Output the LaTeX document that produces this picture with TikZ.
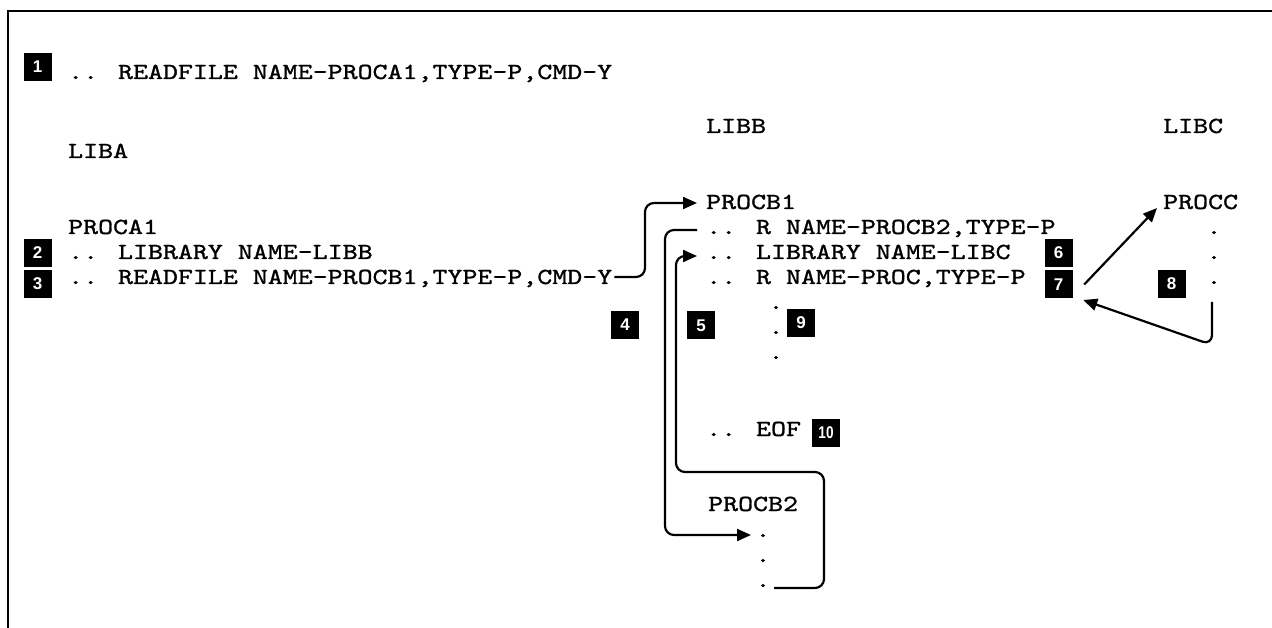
\documentclass[tikz,border=0pt]{standalone}
\usepackage{fontspec}
\usetikzlibrary{arrows.meta,calc}
% typewriter face widened to a Courier-like pitch and weight
\newfontfamily\codefont{lmmono10-regular.otf}[FakeStretch=1.24,FakeBold=1.2]
\newfontfamily\badgefont{Liberation Sans}
\newfontfamily\badgenarrow{Liberation Sans}[FakeStretch=0.8]
\begin{document}
\begin{tikzpicture}[x=1pt,y=-1pt,
  code/.style={font=\codefont\fontsize{23}{25}\selectfont,inner sep=0pt,anchor=base west},
  dotc/.style={font=\codefont\fontsize{23}{25}\selectfont,inner sep=0pt,anchor=base},
  badge/.style={fill=black,text=white,minimum width=28pt,minimum height=28pt,inner sep=0pt,
                font=\badgefont\bfseries\fontsize{17}{17}\selectfont},
  link/.style={line width=2.2pt,rounded corners=9pt},
  tip/.style={-{Triangle[length=14pt,width=12pt]}}]
\useasboundingbox (0,0) rectangle (1272,628);

% frame (top and left edges)
\draw[line width=2.6pt] (8,628) -- (8,11) -- (1272,11);

% LIBA
\node[badge] (n1) at (37.5,67) {1};
\node[code] (l1) at (68,79) {.. READFILE NAME-PROCA1,TYPE-P,CMD-Y};
\node[code] (liba) at (68,158) {LIBA};
\node[code] (proca) at (68,234) {PROCA1};
\node[code] (a2) at (68,259) {.. LIBRARY NAME-LIBB};
\node[code] (a3) at (68,284) {.. READFILE NAME-PROCB1,TYPE-P,CMD-Y};
\node[badge] (n2) at (37.5,253) {2};
\node[badge] (n3) at (37.5,284) {3};

% LIBB
\node[code] (libb) at (706,133) {LIBB};
\node[code] (procb1) at (706,209) {PROCB1};
\node[code] (b1) at (706,234) {.. R NAME-PROCB2,TYPE-P};
\node[code] (b2) at (706,259) {.. LIBRARY NAME-LIBC};
\node[code] (b3) at (706,284) {.. R NAME-PROC,TYPE-P};
\node[dotc] (d1) at (776,309) {.};
\node[dotc] (d2) at (776,334) {.};
\node[dotc] (d3) at (776,359) {.};
\node[code] (eof) at (706,436) {.. EOF};
\node[code] (procb2) at (708,511) {PROCB2};
\node[dotc] (p1) at (763,537) {.};
\node[dotc] (p2) at (763,562) {.};
\node[dotc] (p3) at (763,587) {.};

% LIBC
\node[code] (libc) at (1163,133) {LIBC};
\node[code] (procc) at (1163,209) {PROCC};
\node[dotc] (c1) at (1214,234) {.};
\node[dotc] (c2) at (1214,259) {.};
\node[dotc] (c3) at (1214,284) {.};

% step markers
\node[badge] (n4) at (625,325) {4};
\node[badge] (n5) at (701,325.5) {5};
\node[badge] (n6) at (1058.5,253) {6};
\node[badge] (n7) at (1058.5,284.5) {7};
\node[badge] (n8) at (1171.5,284) {8};
\node[badge] (n9) at (801,323) {9};
\node[badge,font=\badgenarrow\bfseries\fontsize{17}{17}\selectfont] (n10) at (826,432.5) {10};

% READFILE in LIBA -> PROCB1
\draw[link,tip] ($(a3.base east)+(2,-7)$) -| ($(procb1.base west)+(-61,-6)$)
  -- ($(procb1.base west)+(-9,-6)$);
% R NAME-PROCB2 -> PROCB2
\draw[link,tip] ($(b1.base west)+(-9,-4)$) -- ++(-32,0) |- ($(p1.base)+(-12,-2)$);
% end of PROCB2 -> back to LIBRARY NAME-LIBC
\draw[link,tip] ($(p3.base)+(11,1)$) -- ++(50,0) -- ++(0,-116) -- ++(-148,0)
  |- ($(b2.base west)+(-9,-3)$);
% R NAME-PROC -> PROCC
\draw[line width=2.2pt,tip] ($(n7.east)+(11.5,0)$) -- ($(procc.base west)+(-6,-1)$);
% end of PROCC -> back to LIBB
\draw[link,rounded corners=10pt,tip] ($(c3.base)+(-2,18)$) -- ($(c3.base)+(-2,61)$)
  -- ($(n7.east)+(10.5,15.5)$);
\end{tikzpicture}
\end{document}
